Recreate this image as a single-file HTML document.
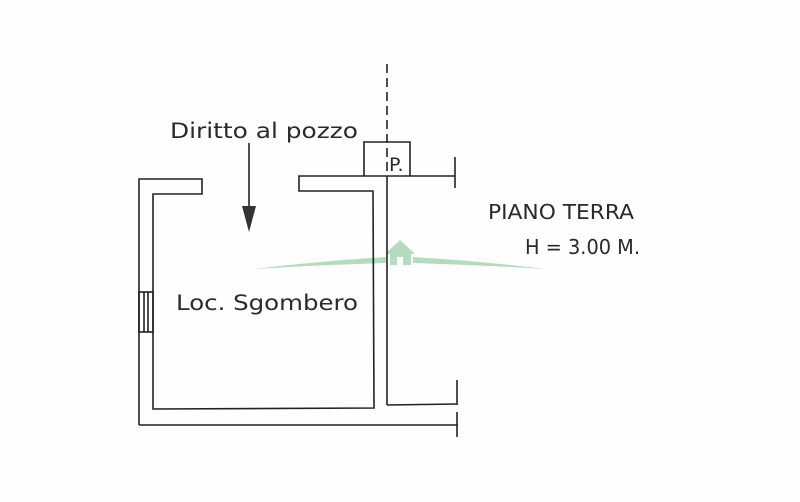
<!DOCTYPE html>
<html><head><style>
html,body{margin:0;padding:0;background:#fff;}
svg{display:block}
text{font-family:"DejaVu Sans","Liberation Sans",sans-serif;fill:#2a2a2a}
</style></head><body>
<svg width="800" height="502" viewBox="0 0 800 502" xmlns="http://www.w3.org/2000/svg">
<rect width="800" height="502" fill="#fefefe"/>
<g fill="#a9d6b4" opacity="0.85">
<path d="M253,269 Q320,261 386,257 L386,263 Q320,265 253,269Z"/>
<path d="M413,257 Q480,261 546,269 Q480,265 413,263Z"/>
<polygon points="385,254 400,240 415,254"/>
<rect x="390" y="254" width="21" height="11"/>
</g>
<rect x="397" y="257" width="6" height="8" fill="#fefefe"/>
<g stroke="#222" stroke-width="1.6" fill="none">
<polyline points="139,425 139,179 202,179 202,194 153,194 153,409 374,408 373,191 299,191 299,176 455,176"/>
<line x1="387" y1="176" x2="387" y2="405"/>
<line x1="387" y1="64" x2="387" y2="176" stroke-dasharray="9,5"/>
<polyline points="387,405 457,404"/>
<line x1="139" y1="425" x2="458" y2="425"/>
<line x1="455" y1="157" x2="455" y2="188"/>
<line x1="457" y1="380" x2="457" y2="405"/>
<line x1="457" y1="412" x2="457" y2="437"/>
<polyline points="364,176 364,142 410,142 410,176"/>
<rect x="139" y="292" width="14" height="40"/>
<line x1="144" y1="292" x2="144" y2="332"/>
<line x1="148" y1="292" x2="148" y2="332"/>
<line x1="249" y1="143" x2="249" y2="208"/>
</g>
<polygon points="242,206 256,206 249,232" fill="#333"/>
<text x="389" y="171" font-size="19">P.</text>
<text x="170" y="138" font-size="21" textLength="188" lengthAdjust="spacingAndGlyphs">Diritto al pozzo</text>
<text x="176" y="310" font-size="21" textLength="182" lengthAdjust="spacingAndGlyphs">Loc. Sgombero</text>
<text x="488" y="219" font-size="20" textLength="146" lengthAdjust="spacingAndGlyphs">PIANO TERRA</text>
<text x="525" y="254" font-size="20" textLength="115" lengthAdjust="spacingAndGlyphs">H = 3.00 M.</text>
</svg>
</body></html>
